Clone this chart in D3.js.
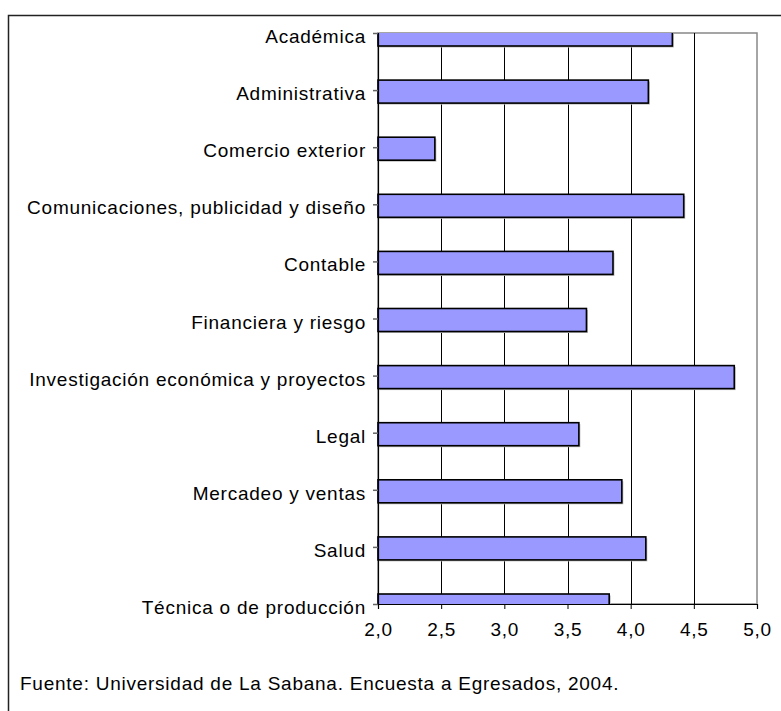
<!DOCTYPE html>
<html>
<head>
<meta charset="utf-8">
<script src="https://cdnjs.cloudflare.com/ajax/libs/d3/7.8.5/d3.min.js"></script>
<style>
  body { margin: 0; background: #fff; }
  svg text { font-family: "Liberation Sans", Arial, sans-serif; font-size: 19px; fill: #000; letter-spacing: 0.75px; }
</style>
</head>
<body>
<div id="chart"></div>
<script>
// Categories (top to bottom) and mean values
const categories = ["Académica", "Administrativa", "Comercio exterior", "Comunicaciones, publicidad y diseño",
    "Contable", "Financiera y riesgo ", "Investigación económica y proyectos", "Legal",
    "Mercadeo y ventas", "Salud", "Técnica o de producción"];
const values = [4.33, 4.14, 2.45, 4.42, 3.86, 3.65, 4.82, 3.59, 3.93, 4.12, 3.83];
const xTicks = [2.0, 2.5, 3.0, 3.5, 4.0, 4.5, 5.0];
const source = "Fuente: Universidad de La Sabana. Encuesta a Egresados, 2004.";

const width = 781;
const height = 711;
const margin = { top: 33, right: 24, bottom: 107, left: 378 };
const innerW = width - margin.left - margin.right;
const innerH = height - margin.top - margin.bottom;

const svg = d3.select("#chart")
    .append("svg")
    .attr("width", width)
    .attr("height", height);

// Outer frame (runs off the right and bottom edges)
svg.append("path")
    .attr("d", "M8.5," + height + " V15.5 H" + width)
    .attr("fill", "none")
    .attr("stroke", "#222")
    .attr("stroke-width", 1.5);

const g = svg.append("g")
    .attr("transform", "translate(" + margin.left + "," + margin.top + ")");

const x = d3.scaleLinear().domain([2, 5]).range([0, innerW]);
const y = d3.scalePoint().domain(categories).range([0, innerH]);

// Plot area border
g.append("rect")
    .attr("x", 0).attr("y", 0)
    .attr("width", innerW).attr("height", innerH)
    .attr("fill", "none")
    .attr("stroke", "#888")
    .attr("stroke-width", 1.5);

// Gridlines
g.selectAll(".grid")
    .data(xTicks.slice(1, -1))
    .enter()
    .append("line")
    .attr("class", "grid")
    .attr("x1", d => Math.round(x(d)) + 0.5)
    .attr("x2", d => Math.round(x(d)) + 0.5)
    .attr("y1", 0)
    .attr("y2", innerH)
    .attr("stroke", "#000")
    .attr("stroke-width", 1);

// Clip bars to the plot area
svg.append("clipPath")
    .attr("id", "plot-clip")
    .append("rect")
    .attr("x", -2).attr("y", 0)
    .attr("width", innerW + 4).attr("height", innerH);

const bars = g.append("g").attr("clip-path", "url(#plot-clip)");

// faint shadow
bars.selectAll(".shadow")
    .data(values)
    .enter()
    .append("rect")
    .attr("class", "shadow")
    .attr("x", 1.5)
    .attr("y", (d, i) => y(categories[i]) - 10 + 1.5)
    .attr("width", d => x(d) - x(2))
    .attr("height", 23)
    .attr("fill", "#bbb");

bars.selectAll(".bar")
    .data(values)
    .enter()
    .append("rect")
    .attr("class", "bar")
    .attr("x", 0)
    .attr("y", (d, i) => y(categories[i]) - 10)
    .attr("width", d => x(d) - x(2))
    .attr("height", 23)
    .attr("fill", "#9999ff")
    .attr("stroke", "#000")
    .attr("stroke-width", 1.6);

// Y axis
const yAxis = d3.axisLeft(y).tickSize(5).tickPadding(7);
const yG = g.append("g").call(yAxis);
yG.select(".domain").attr("stroke", "#000").attr("stroke-width", 1.2);
yG.selectAll(".tick line").attr("stroke", "#666").attr("stroke-width", 1.5);
yG.selectAll(".tick text").attr("dy", "0.5em").attr("font-size", null).attr("font-family", null);

// X axis
const xAxis = d3.axisBottom(x)
    .tickValues(xTicks)
    .tickSize(5)
    .tickPadding(14)
    .tickFormat(d => d.toFixed(1).replace(".", ","));
const xG = g.append("g")
    .attr("transform", "translate(0," + innerH + ")")
    .call(xAxis);
xG.select(".domain").attr("stroke", "#000").attr("stroke-width", 1.2);
xG.selectAll(".tick line").attr("stroke", "#000");
xG.selectAll(".tick text").attr("font-size", null).attr("font-family", null);

// Source note
svg.append("text")
    .attr("x", 20)
    .attr("y", 690)
    .text(source);
</script>
</body>
</html>
